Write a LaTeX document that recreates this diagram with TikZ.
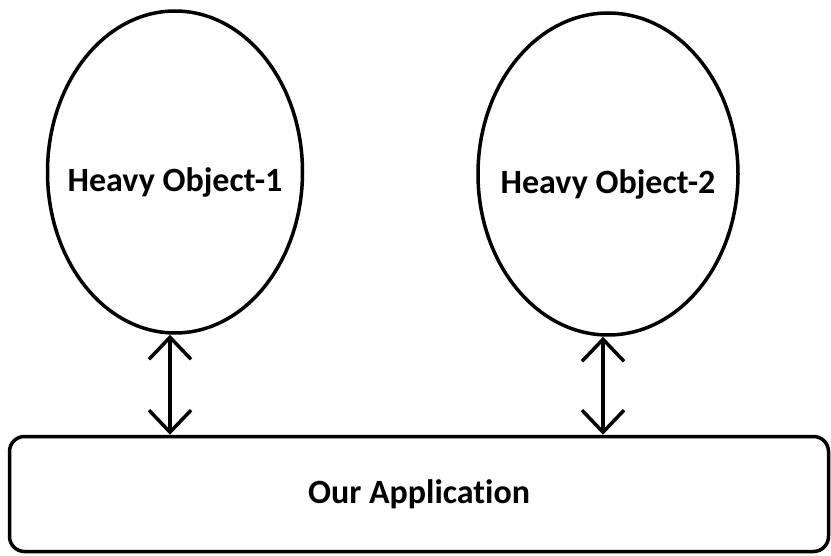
\documentclass[tikz,border=0pt]{standalone}
\usepackage{fontspec}
\setmainfont{Carlito}[Ligatures=NoCommon]
\usetikzlibrary{arrows.meta,shapes.geometric}
\tikzset{
  heavy/.style={draw, ellipse, line width=3.5pt, minimum width=255pt,
    minimum height=322pt, inner sep=0pt},
  heavytext/.style={font=\fontsize{34}{38}\selectfont\bfseries, yshift=-10pt},
  app/.style={draw, rounded corners=15pt, line width=3.5pt, minimum width=819pt,
    minimum height=115pt, font=\fontsize{34}{38}\selectfont\bfseries},
  link/.style={{Straight Barb[length=22pt, width=42pt, line width=3.5pt]}-{Straight Barb[length=22pt, width=42pt, line width=3.5pt]},
    line width=3.5pt},
}

\begin{document}
\begin{tikzpicture}[x=1pt, y=-1pt]
\useasboundingbox (0,0) rectangle (831,556);

% the two heavy objects
\node[heavy, label={[heavytext]center:Heavy Object-1}] (obj1) at (175,172) {};
\node[heavy, minimum width=260pt, label={[heavytext]center:Heavy Object-2}] (obj2) at (608,174) {};

% the application
\node[app] (app) at (419,494) {Our Application};

\draw[link] ([xshift=-5pt]obj1.south) -- ([xshift=-5pt]obj1.south |- app.north);
\draw[link] ([xshift=-5pt]obj2.south) -- ([xshift=-5pt]obj2.south |- app.north);

\end{tikzpicture}
\end{document}
